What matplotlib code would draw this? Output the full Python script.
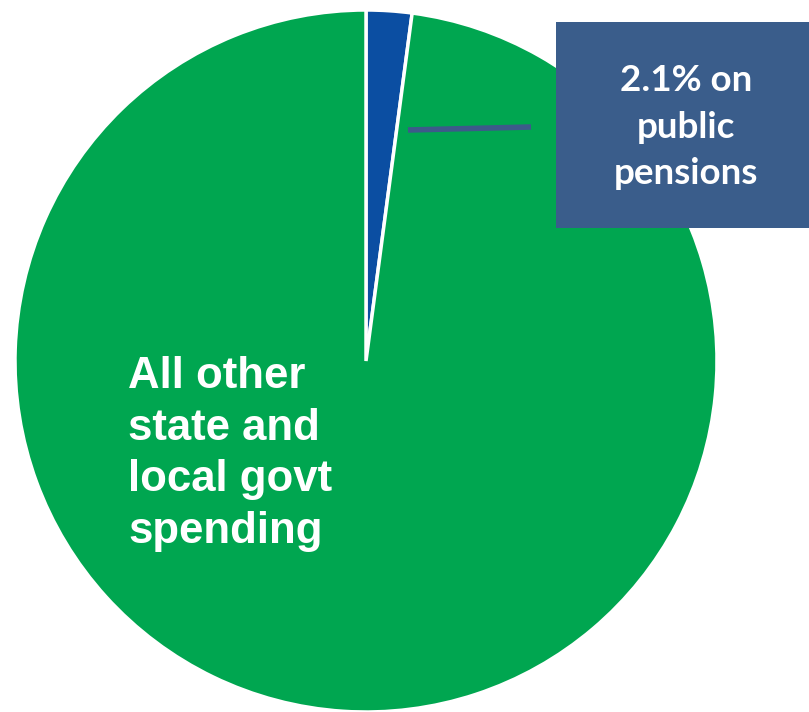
import matplotlib
matplotlib.use("Agg")
import matplotlib.pyplot as plt
from matplotlib.patches import Rectangle

categories = ["Public pensions", "All other state and local govt spending"]
shares = [2.1, 97.9]
colors = ["#0B4EA2", "#00A650"]
label_pension = "2.1% on\npublic\npensions"
label_other = "All other\nstate and\nlocal govt\nspending"

W, H = 809, 712
fig = plt.figure(figsize=(W / 100, H / 100), dpi=100)
ax = fig.add_axes([0, 0, 1, 1])
ax.set_xlim(0, W)
ax.set_ylim(0, H)
ax.set_aspect("equal")
ax.axis("off")

cx, cy, r = 366, H - 361, 351
ax.pie(shares, colors=colors, startangle=90, counterclock=False,
       center=(cx, cy), radius=r, frame=True,
       wedgeprops=dict(edgecolor="white", linewidth=2.5))
ax.set_xlim(0, W)
ax.set_ylim(0, H)
ax.axis("off")

# callout line and box
ax.plot([408, 531], [H - 130, H - 127], color="#3D5A8A", lw=4, solid_capstyle="butt", zorder=3)
ax.add_patch(Rectangle((556, H - 228), 260, 206, facecolor="#3A5D8B", edgecolor="none", zorder=3))
ax.text(686, H - 127, label_pension, ha="center", va="center", color="white",
        fontsize=26.5, fontweight="bold", family=["Lato", "DejaVu Sans"],
        linespacing=1.5, zorder=4)

ax.text(128, H - 454, label_other, ha="left", va="center", color="white",
        fontsize=31.5, fontweight="bold", family=["Liberation Sans", "DejaVu Sans"],
        linespacing=1.33, zorder=4)

fig.savefig("out.png", dpi=100)
